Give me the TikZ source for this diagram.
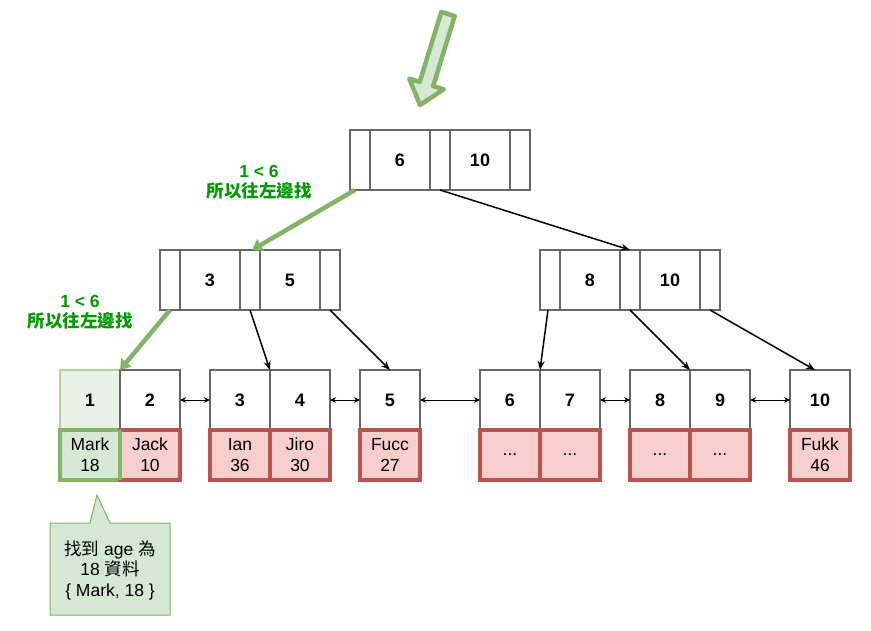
\documentclass[tikz,border=0pt]{standalone}
\usepackage{fontspec}
\setmainfont{Liberation Sans}
\newfontfamily\cjk{Noto Sans CJK TC}
\usetikzlibrary{arrows.meta}
\definecolor{gfill}{HTML}{D5E8D4}
\definecolor{gline}{HTML}{82B366}
\definecolor{rfill}{HTML}{F8CECC}
\definecolor{rline}{HTML}{B85450}
\definecolor{gtext}{HTML}{009900}
\definecolor{boxline}{HTML}{666666}
\begin{document}
\begin{tikzpicture}[x=1pt,y=-1pt,
  cell/.style={draw=boxline,line width=1.4pt,fill=white,inner sep=0pt,outer sep=0pt,minimum height=60pt,font=\fontsize{18}{22}\selectfont\bfseries},
  ptrcell/.style={cell,minimum width=20pt},
  keycell/.style={cell,minimum width=60pt},
  rec/.style={draw=rline,line width=3.2pt,fill=rfill,inner sep=0pt,outer sep=0pt,minimum width=60pt,minimum height=50pt,align=center,font=\fontsize{17.5}{21}\selectfont},
  grec/.style={rec,draw=gline,fill=gfill},
  greenarrow/.style={draw=gline,line width=4.5pt,-{Triangle[length=10pt,width=13pt]}},
  blackarrow/.style={draw=black,line width=1.5pt,-{Stealth[length=9pt,width=7pt]}},
  linkarrow/.style={draw=black,line width=1pt,{Stealth[length=6pt,width=5.5pt]}-{Stealth[length=6pt,width=5.5pt]}},
  glabel/.style={text=gtext,align=center,font=\fontsize{17.5}{20}\selectfont\bfseries}
]
\useasboundingbox (0,0) rectangle (871,631);

% root
\node[ptrcell] (rp0) at (360,160) {};
\node[keycell] (rk0) at (400,160) {6};
\node[ptrcell] (rp1) at (440,160) {};
\node[keycell] (rk1) at (480,160) {10};
\node[ptrcell] (rp2) at (520,160) {};

% level 2 left
\node[ptrcell] (lp0) at (170,280) {};
\node[keycell] (lk0) at (210,280) {3};
\node[ptrcell] (lp1) at (250,280) {};
\node[keycell] (lk1) at (290,280) {5};
\node[ptrcell] (lp2) at (330,280) {};

% level 2 right
\node[ptrcell] (tp0) at (550,280) {};
\node[keycell] (tk0) at (590,280) {8};
\node[ptrcell] (tp1) at (630,280) {};
\node[keycell] (tk1) at (670,280) {10};
\node[ptrcell] (tp2) at (710,280) {};

% leaves keys
\node[keycell,fill=gfill!55,draw=gline!60] (f1) at (90,400) {1};
\node[keycell] (f2) at (150,400) {2};
\node[keycell] (f3) at (240,400) {3};
\node[keycell] (f4) at (300,400) {4};
\node[keycell] (f5) at (390,400) {5};
\node[keycell] (f6) at (510,400) {6};
\node[keycell] (f7) at (570,400) {7};
\node[keycell] (f8) at (660,400) {8};
\node[keycell] (f9) at (720,400) {9};
\node[keycell] (f10) at (820,400) {10};

% leaves data
\node[grec] (d1) at (90,455) {Mark\\18};
\node[rec] (d2) at (150,455) {Jack\\10};
\node[rec] (d3) at (240,455) {Ian\\36};
\node[rec] (d4) at (300,455) {Jiro\\30};
\node[rec] (d5) at (390,455) {Fucc\\27};
\node[rec] (d6) at (510,455) {...};
\node[rec] (d7) at (570,455) {...};
\node[rec] (d8) at (660,455) {...};
\node[rec] (d9) at (720,455) {...};
\node[rec] (d10) at (820,455) {Fukk\\46};
\draw[draw=gline,line width=3.2pt] (d1.north east) -- (d1.south east);

% leaf links
\draw[linkarrow] (f2.east) -- (f3.west);
\draw[linkarrow] (f4.east) -- (f5.west);
\draw[linkarrow] (f5.east) -- (f6.west);
\draw[linkarrow] (f7.east) -- (f8.west);
\draw[linkarrow] (f9.east) -- (f10.west);

% tree connectors
\draw[greenarrow] ([xshift=-5pt]rp0.south) -- ([xshift=2pt]lp1.north);
\draw[blackarrow] (rp1.south) -- (tp1.north);
\draw[greenarrow] (lp0.south) -- (f1.north east);
\draw[blackarrow] (lp1.south) -- (f3.north east);
\draw[blackarrow] (lp2.south) -- (f5.north);
\draw[blackarrow] ([xshift=-2pt]tp0.south) -- (f6.north east);
\draw[blackarrow] (tp1.south) -- (f8.north east);
\draw[blackarrow] (tp2.south) -- ([xshift=-5pt]f10.north);

% labels
\node[glabel] (lab1) at (259,182) {1 < 6\\{\cjk\bfseries 所以往左邊找}};
\node[glabel] (lab2) at (80,312) {1 < 6\\{\cjk\bfseries 所以往左邊找}};

% big entry arrow
\draw[draw=gline,fill=gfill,line width=4.5pt,line join=round]
  (441.3,11.9) -- (454.7,16.1) -- (433.2,86.1) -- (443.7,89.3) -- (420,105)
  -- (409.3,78.7) -- (419.8,81.9) -- cycle;

% callout
\draw[draw=gline,fill=gfill,line width=1pt]
  (50,523) -- (90,523) -- (97,495) -- (110,523) -- (170,523) -- (170,615) -- (50,615) -- cycle;
\node[align=center,font=\fontsize{17.5}{20.5}\selectfont] (note) at (110,570)
  {{\cjk 找到} age {\cjk 為}\\18 {\cjk 資料}\\\{ Mark, 18 \}};
\end{tikzpicture}
\end{document}
